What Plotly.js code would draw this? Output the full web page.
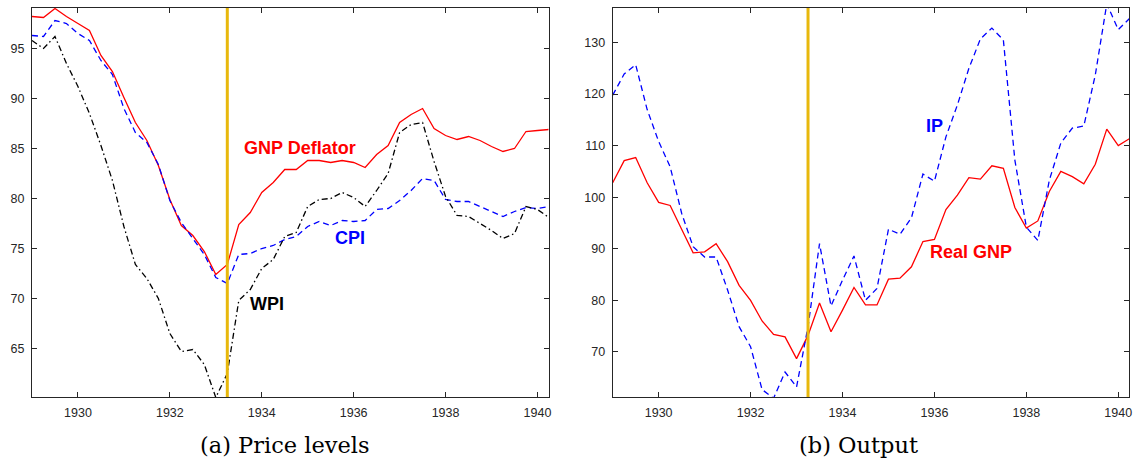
<!DOCTYPE html>
<html>
<head>
<meta charset="utf-8">
<script src="https://cdn.plot.ly/plotly-3.0.1.min.js"></script>
<style>html,body{margin:0;padding:0;background:#fff;}#chart{width:1135px;height:461px;}</style>
</head>
<body>
<div id="chart"></div>
<script>
// Quarterly dates 1929Q1 .. 1940Q2
const quarters = [
 1929.00,1929.25,1929.50,1929.75,1930.00,1930.25,1930.50,1930.75,
 1931.00,1931.25,1931.50,1931.75,1932.00,1932.25,1932.50,1932.75,
 1933.00,1933.25,1933.50,1933.75,1934.00,1934.25,1934.50,1934.75,
 1935.00,1935.25,1935.50,1935.75,1936.00,1936.25,1936.50,1936.75,
 1937.00,1937.25,1937.50,1937.75,1938.00,1938.25,1938.50,1938.75,
 1939.00,1939.25,1939.50,1939.75,1940.00,1940.25];

// (a) Price levels
const gnpDeflator = [
 98.2,98.1,99.0,98.2,97.5,96.8,94.3,92.7,
 90.1,87.6,85.8,83.3,79.9,77.3,76.3,74.7,
 72.4,73.4,77.4,78.6,80.6,81.6,82.9,82.9,
 83.8,83.8,83.6,83.8,83.6,83.1,84.4,85.3,
 87.6,88.4,89.0,87.0,86.3,85.9,86.2,85.8,
 85.2,84.7,85.0,86.7,86.8,86.9];
const cpi = [
 96.3,96.2,97.8,97.5,96.5,95.8,93.8,92.4,
 89.0,86.6,85.6,83.4,79.8,77.6,76.0,74.4,
 72.1,71.5,74.4,74.5,75.0,75.3,75.9,76.2,
 77.2,77.7,77.3,77.8,77.7,77.8,78.9,79.0,
 79.8,80.8,82.0,81.8,79.9,79.7,79.7,79.2,
 78.7,78.2,78.7,79.1,79.0,79.2];
const wpi = [
 95.8,95.0,96.2,93.5,91.2,88.5,85.3,81.8,
 77.2,73.4,72.0,70.0,66.5,64.7,64.9,63.4,
 60.1,62.5,69.8,70.9,73.0,73.9,76.2,76.6,
 79.2,79.9,80.0,80.6,80.1,79.2,80.8,82.5,
 86.6,87.4,87.6,83.7,80.2,78.3,78.2,77.5,
 76.8,76.0,76.5,79.2,78.9,78.1];

// (b) Output
const realGNP = [
 102.8,107.1,107.7,102.8,99.0,98.4,93.8,89.2,
 89.4,91.0,87.5,82.9,80.0,76.0,73.4,72.9,
 68.7,73.2,79.5,73.9,78.1,82.5,79.1,79.1,
 84.1,84.3,86.5,91.4,91.8,97.6,100.4,103.8,
 103.5,106.1,105.6,98.0,94.0,95.4,101.1,105.0,
 104.0,102.6,106.4,113.2,110.0,111.4];
const ip = [
 119.8,123.9,125.7,117.0,110.8,105.9,96.9,90.4,
 88.4,88.4,82.0,74.9,71.0,62.7,61.0,66.1,
 63.2,74.9,91.0,78.9,83.9,88.6,80.0,82.3,
 93.8,92.8,96.0,104.5,103.1,111.7,117.9,125.0,
 130.7,132.8,130.5,107.2,94.2,91.6,103.3,110.5,
 113.4,113.8,123.7,137.5,132.5,134.7];

const breakDate = 1933.25;
const xTicks = [1930,1932,1934,1936,1938,1940];
const yTicksA = [65,70,75,80,85,90,95];
const yTicksB = [70,80,90,100,110,120,130];
const xRange = [1929, 1940.24];
const yRangeA = [60.15, 99.05];
const yRangeB = [61.25, 136.7];

const seriesLabels = {
  a: [{text:'GNP Deflator', x:1934.84, y:85.1, color:'#ff0000'},
      {text:'CPI', x:1935.91, y:76.1, color:'#0000ff'},
      {text:'WPI', x:1934.12, y:69.5, color:'#000000'}],
  b: [{text:'IP', x:1936.0, y:113.8, color:'#0000ff'},
      {text:'Real GNP', x:1936.8, y:89.4, color:'#ff0000'}]
};
const captions = ['(a) Price levels', '(b) Output'];

const RED='#ff0000', BLUE='#0000ff', BLACK='#000000', GOLD='#E8B80C', AX='#262626';

const traces = [
 {x:quarters, y:gnpDeflator, xaxis:'x', yaxis:'y', mode:'lines', line:{color:RED, width:1.3}, name:'GNP Deflator'},
 {x:quarters, y:cpi, xaxis:'x', yaxis:'y', mode:'lines', line:{color:BLUE, width:1.3, dash:'6px,4px'}, name:'CPI'},
 {x:quarters, y:wpi, xaxis:'x', yaxis:'y', mode:'lines', line:{color:BLACK, width:1.3, dash:'6px,3px,1.5px,3px'}, name:'WPI'},
 {x:quarters, y:realGNP, xaxis:'x2', yaxis:'y2', mode:'lines', line:{color:RED, width:1.3}, name:'Real GNP'},
 {x:quarters, y:ip, xaxis:'x2', yaxis:'y2', mode:'lines', line:{color:BLUE, width:1.3, dash:'6px,4px'}, name:'IP'}
];

const tickFont = {family:'Liberation Sans, Arial, sans-serif', size:12.5, color:AX};
function xax(domain, anchor){
  return {domain:domain, anchor:anchor, range:xRange, tickvals:xTicks, ticktext:xTicks.map(String),
    ticks:'inside', ticklen:5, tickwidth:1, tickcolor:AX, showline:true, linecolor:AX, linewidth:1,
    mirror:'ticks', showgrid:false, zeroline:false, tickfont:tickFont, ticklabelstandoff:4};
}
function yax(domain, anchor, range, tv){
  return {domain:domain, anchor:anchor, range:range, tickvals:tv, ticktext:tv.map(String),
    ticks:'inside', ticklen:5, tickwidth:1, tickcolor:AX, showline:true, linecolor:AX, linewidth:1,
    mirror:'ticks', showgrid:false, zeroline:false, tickfont:tickFont, ticklabelstandoff:4};
}

const W=1135, H=461, T=8, PB=396.7, B=H-PB;
const capY = (PB-445)/(PB-T);
const annotations = [];
seriesLabels.a.forEach(l=>annotations.push({xref:'x', yref:'y', x:l.x, y:l.y, text:'<b>'+l.text+'</b>', showarrow:false,
  font:{family:'Liberation Sans, Arial, sans-serif', size:18, color:l.color}}));
seriesLabels.b.forEach(l=>annotations.push({xref:'x2', yref:'y2', x:l.x, y:l.y, text:'<b>'+l.text+'</b>', showarrow:false,
  font:{family:'Liberation Sans, Arial, sans-serif', size:18, color:l.color}}));
annotations.push({xref:'paper', yref:'paper', x:285/W, y:capY, text:captions[0], showarrow:false, xanchor:'center', yanchor:'middle',
  font:{family:'DejaVu Serif, serif', size:22.5, color:'#000'}});
annotations.push({xref:'paper', yref:'paper', x:858/W, y:capY, text:captions[1], showarrow:false, xanchor:'center', yanchor:'middle',
  font:{family:'DejaVu Serif, serif', size:22.5, color:'#000'}});

const layout = {
  width:W, height:H, margin:{l:0, r:0, t:T, b:B}, showlegend:false,
  paper_bgcolor:'#fff', plot_bgcolor:'#fff',
  xaxis: xax([32/W, 548.5/W], 'y'),
  yaxis: yax([0,1], 'x', yRangeA, yTicksA),
  xaxis2: xax([612.7/W, 1129.3/W], 'y2'),
  yaxis2: yax([0,1], 'x2', yRangeB, yTicksB),
  shapes: [
    {type:'line', xref:'x', yref:'y domain', x0:breakDate, x1:breakDate, y0:0, y1:1, line:{color:GOLD, width:3}, layer:'above'},
    {type:'line', xref:'x2', yref:'y2 domain', x0:breakDate, x1:breakDate, y0:0, y1:1, line:{color:GOLD, width:3}, layer:'above'}
  ],
  annotations: annotations
};

Plotly.newPlot('chart', traces, layout, {displayModeBar:false, staticPlot:true});
</script>
</body>
</html>
